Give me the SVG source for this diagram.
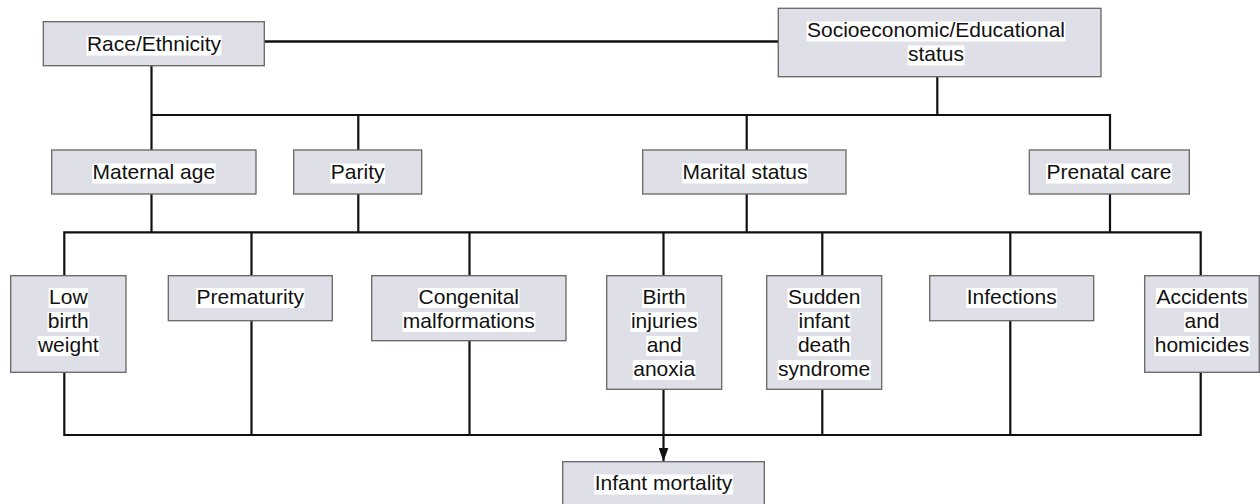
<svg xmlns="http://www.w3.org/2000/svg" width="1260" height="504" viewBox="0 0 1260 504">
<style>
.box{fill:#dfdfe8;stroke:#666;stroke-width:1.3}
.hl{fill:#fff}
.t{font-family:"Liberation Sans",Arial,Helvetica,sans-serif;font-size:21px;fill:#111;text-anchor:middle}
.c{fill:none;stroke:#111;stroke-width:2.2}
.thick{stroke-width:2.6}
</style>
<defs>
<marker id="ah" markerUnits="userSpaceOnUse" viewBox="0 0 14 10" refX="14" refY="5" markerWidth="14" markerHeight="10" orient="auto">
<path d="M0,0 L14,5 L0,10 z" fill="#111"/>
</marker>
</defs>
<rect width="1260" height="504" fill="#fff"/>
<g id="connectors">
<line class="c thick" x1="264" y1="41.5" x2="778" y2="41.5"/>
<line class="c" x1="151.5" y1="66" x2="151.5" y2="150"/>
<line class="c" x1="937.3" y1="77" x2="937.3" y2="115"/>
<polyline class="c" points="151.5,115 1110,115 1110,150"/>
<line class="c" x1="358.3" y1="115" x2="358.3" y2="150"/>
<line class="c" x1="746.7" y1="115" x2="746.7" y2="150"/>
<line class="c" x1="151.5" y1="194" x2="151.5" y2="232.3"/>
<line class="c" x1="358.3" y1="194" x2="358.3" y2="232.3"/>
<line class="c" x1="746.7" y1="194" x2="746.7" y2="232.3"/>
<line class="c" x1="1110" y1="194" x2="1110" y2="232.3"/>
<polyline class="c" points="64.3,275.7 64.3,232.3 1200.7,232.3 1200.7,275.7"/>
<line class="c" x1="251.5" y1="232.3" x2="251.5" y2="275.7"/>
<line class="c" x1="469.5" y1="232.3" x2="469.5" y2="275.7"/>
<line class="c" x1="663.5" y1="232.3" x2="663.5" y2="275.7"/>
<line class="c" x1="822.3" y1="232.3" x2="822.3" y2="275.7"/>
<line class="c" x1="1010.3" y1="232.3" x2="1010.3" y2="275.7"/>
<polyline class="c" points="64.3,372.3 64.3,435 1200.7,435 1200.7,372.3"/>
<line class="c" x1="251.5" y1="320.7" x2="251.5" y2="435"/>
<line class="c" x1="469.5" y1="340.7" x2="469.5" y2="435"/>
<line class="c" x1="822.3" y1="389.3" x2="822.3" y2="435"/>
<line class="c" x1="1010.3" y1="320.7" x2="1010.3" y2="435"/>
<line class="c" x1="663.5" y1="389.3" x2="663.5" y2="461.5" marker-end="url(#ah)"/>
</g>
<g id="race">
<rect class="box" x="43.3" y="21.7" width="221" height="44"/>
<rect class="hl" x="86.4" y="35.5" width="135.2" height="20"/>
<text class="t" x="154" y="51">Race/Ethnicity</text>
</g>
<g id="socio">
<rect class="box" x="778.3" y="8.3" width="322.7" height="68.4"/>
<rect class="hl" x="806.6" y="21.5" width="258.9" height="20"/>
<rect class="hl" x="907.5" y="45.5" width="57" height="20"/>
<text class="t" x="936" y="37">Socioeconomic/Educational</text>
<text class="t" x="936" y="61">status</text>
</g>
<g id="maternal">
<rect class="box" x="51.7" y="150" width="204.3" height="44"/>
<rect class="hl" x="92" y="163.5" width="123.6" height="20"/>
<text class="t" x="153.8" y="179">Maternal age</text>
</g>
<g id="parity">
<rect class="box" x="293.7" y="150" width="128" height="44"/>
<rect class="hl" x="330.4" y="163.5" width="54.7" height="20"/>
<text class="t" x="357.7" y="179">Parity</text>
</g>
<g id="marital">
<rect class="box" x="642.7" y="150" width="203.3" height="44"/>
<rect class="hl" x="682.1" y="163.5" width="125.9" height="20"/>
<text class="t" x="745" y="179">Marital status</text>
</g>
<g id="prenatal">
<rect class="box" x="1029.3" y="150" width="160" height="44"/>
<rect class="hl" x="1046" y="163.5" width="125.9" height="20"/>
<text class="t" x="1109" y="179">Prenatal care</text>
</g>
<g id="lbw">
<rect class="box" x="10.7" y="275.7" width="115.3" height="96.6"/>
<rect class="hl" x="48.6" y="288" width="39.5" height="20"/>
<rect class="hl" x="47.4" y="312" width="41.8" height="20"/>
<rect class="hl" x="37.5" y="336" width="61.7" height="20"/>
<text class="t" x="68.3" y="303.5">Low</text>
<text class="t" x="68.3" y="327.5">birth</text>
<text class="t" x="68.3" y="351.5">weight</text>
</g>
<g id="prematurity">
<rect class="box" x="168.3" y="275.7" width="164" height="45"/>
<rect class="hl" x="196.1" y="288" width="108.4" height="20"/>
<text class="t" x="250.3" y="303.5">Prematurity</text>
</g>
<g id="congenital">
<rect class="box" x="371.7" y="275.7" width="194.3" height="65"/>
<rect class="hl" x="418.1" y="288" width="101.4" height="20"/>
<rect class="hl" x="402.4" y="312" width="132.9" height="20"/>
<text class="t" x="468.8" y="303.5">Congenital</text>
<text class="t" x="468.8" y="327.5">malformations</text>
</g>
<g id="birth">
<rect class="box" x="606.7" y="275.7" width="115" height="113.6"/>
<rect class="hl" x="642.1" y="288" width="44.2" height="20"/>
<rect class="hl" x="630.5" y="312" width="67.5" height="20"/>
<rect class="hl" x="646.2" y="336" width="36" height="20"/>
<rect class="hl" x="632.7" y="360" width="62.9" height="20"/>
<text class="t" x="664.2" y="303.5">Birth</text>
<text class="t" x="664.2" y="327.5">injuries</text>
<text class="t" x="664.2" y="351.5">and</text>
<text class="t" x="664.2" y="375.5">anoxia</text>
</g>
<g id="sids">
<rect class="box" x="766.7" y="275.7" width="115" height="113.6"/>
<rect class="hl" x="787.5" y="288" width="73.4" height="20"/>
<rect class="hl" x="798" y="312" width="52.4" height="20"/>
<rect class="hl" x="797.5" y="336" width="53.5" height="20"/>
<rect class="hl" x="777.6" y="360" width="93.2" height="20"/>
<text class="t" x="824.2" y="303.5">Sudden</text>
<text class="t" x="824.2" y="327.5">infant</text>
<text class="t" x="824.2" y="351.5">death</text>
<text class="t" x="824.2" y="375.5">syndrome</text>
</g>
<g id="infections">
<rect class="box" x="929.7" y="275.7" width="164" height="45"/>
<rect class="hl" x="966.3" y="288" width="90.9" height="20"/>
<text class="t" x="1011.7" y="303.5">Infections</text>
</g>
<g id="accidents">
<rect class="box" x="1144.7" y="275.7" width="114.6" height="96.6"/>
<rect class="hl" x="1156" y="288" width="92" height="20"/>
<rect class="hl" x="1184" y="312" width="36" height="20"/>
<rect class="hl" x="1154.3" y="336" width="95.5" height="20"/>
<text class="t" x="1202" y="303.5">Accidents</text>
<text class="t" x="1202" y="327.5">and</text>
<text class="t" x="1202" y="351.5">homicides</text>
</g>
<g id="infant">
<rect class="box" x="562.7" y="461.7" width="201.6" height="46"/>
<rect class="hl" x="594.2" y="474.5" width="138.7" height="20"/>
<text class="t" x="663.5" y="490">Infant mortality</text>
</g>
</svg>
